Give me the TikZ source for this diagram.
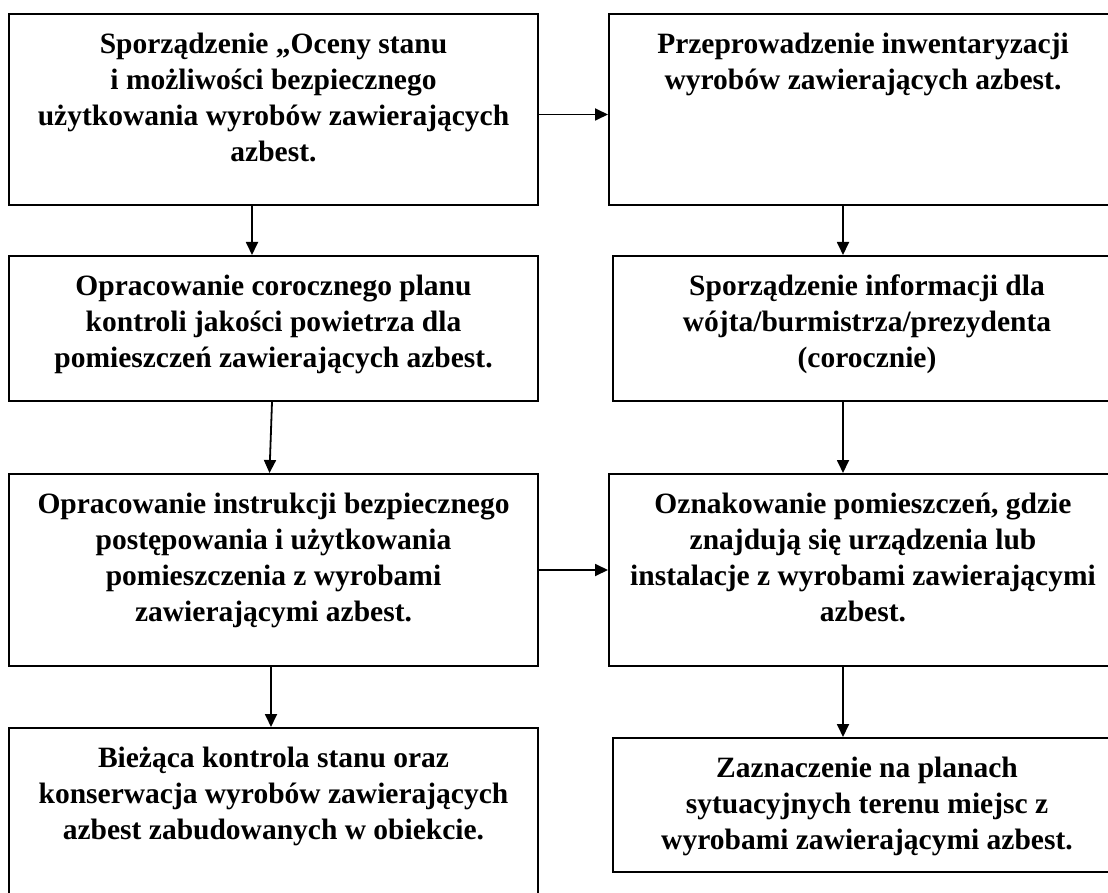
\documentclass[tikz,border=0pt]{standalone}
\usepackage{fontspec}
\setmainfont{Liberation Serif}
\usetikzlibrary{arrows.meta}

\newcommand*{\pw}{1108}
\newcommand*{\ph}{893}

\begin{document}
\begin{tikzpicture}
[
	x=1pt, y=-1pt,
	box/.style={draw,line width=2pt,inner sep=0pt,anchor=north west},
	boxl/.style={box,minimum width=529pt},
	boxr/.style={box,minimum width=508pt},
	txt/.style={anchor=north,inner sep=0pt,align=center,yshift=-20pt,
		font=\fontsize{29.5}{36}\selectfont\bfseries},
	arr/.style={-{Triangle[length=13pt,width=12pt]},line width=1.8pt}
]

	\useasboundingbox (0,0) rectangle (\pw,\ph);
	\clip (0,0) rectangle (\pw,\ph);

	% left column
	\node[boxl,minimum height=191pt] (l1) at (8,13) {};
	\node[boxl,minimum height=145pt] (l2) at (8,255) {};
	\node[boxl,minimum height=192pt] (l3) at (8,473) {};
	\node[boxl,minimum height=200pt] (l4) at (8,727) {};

	% right column
	\node[boxr,minimum height=191pt] (r1) at (608,13) {};
	\node[boxr,minimum height=145pt] (r2) at (612,255) {};
	\node[boxr,minimum height=192pt] (r3) at (608,473) {};
	\node[boxr,minimum height=134pt] (r4) at (612,737) {};

	% texts
	\node[txt] (l1t) at (l1.north) {Sporządzenie „Oceny stanu\\i możliwości bezpiecznego\\użytkowania wyrobów zawierających\\azbest.};
	\node[txt] (l2t) at (l2.north) {Opracowanie corocznego planu\\kontroli jakości powietrza dla\\pomieszczeń zawierających azbest.};
	\node[txt] (l3t) at (l3.north) {Opracowanie instrukcji bezpiecznego\\postępowania i użytkowania\\pomieszczenia z wyrobami\\zawierającymi azbest.};
	\node[txt] (l4t) at (l4.north) {Bieżąca kontrola stanu oraz\\konserwacja wyrobów zawierających\\azbest zabudowanych w obiekcie.};

	\node[txt] (r1t) at (r1.north) {Przeprowadzenie inwentaryzacji\\wyrobów zawierających azbest.};
	\node[txt] (r2t) at (r2.north) {Sporządzenie informacji dla\\wójta/burmistrza/prezydenta\\(corocznie)};
	\node[txt] (r3t) at (r3.north) {Oznakowanie pomieszczeń, gdzie\\znajdują się urządzenia lub\\instalacje z wyrobami zawierającymi\\azbest.};
	\node[txt] (r4t) at (r4.north) {Zaznaczenie na planach\\sytuacyjnych terenu miejsc z\\wyrobami zawierającymi azbest.};

	% arrows
	\draw[arr] ([xshift=-21.5pt]l1.south) -- ([xshift=-21.5pt]l2.north);
	\draw[arr] ([xshift=-1.5pt]l2.south) -- ([xshift=-4pt]l3.north);
	\draw[arr] ([xshift=-2.5pt]l3.south) -- ([xshift=-2.5pt]l4.north);

	\draw[arr] ([xshift=-20pt]r1.south) -- ([xshift=-24pt]r2.north);
	\draw[arr] ([xshift=-24pt]r2.south) -- ([xshift=-20pt]r3.north);
	\draw[arr] ([xshift=-20pt]r3.south) -- ([xshift=-24pt]r4.north);

	\draw[arr] ([yshift=-5pt]l1.east) -- ([yshift=-5pt]l1.east -| r1.west);
	\draw[arr] (l3.east) -- (l3.east -| r3.west);

\end{tikzpicture}
\end{document}
